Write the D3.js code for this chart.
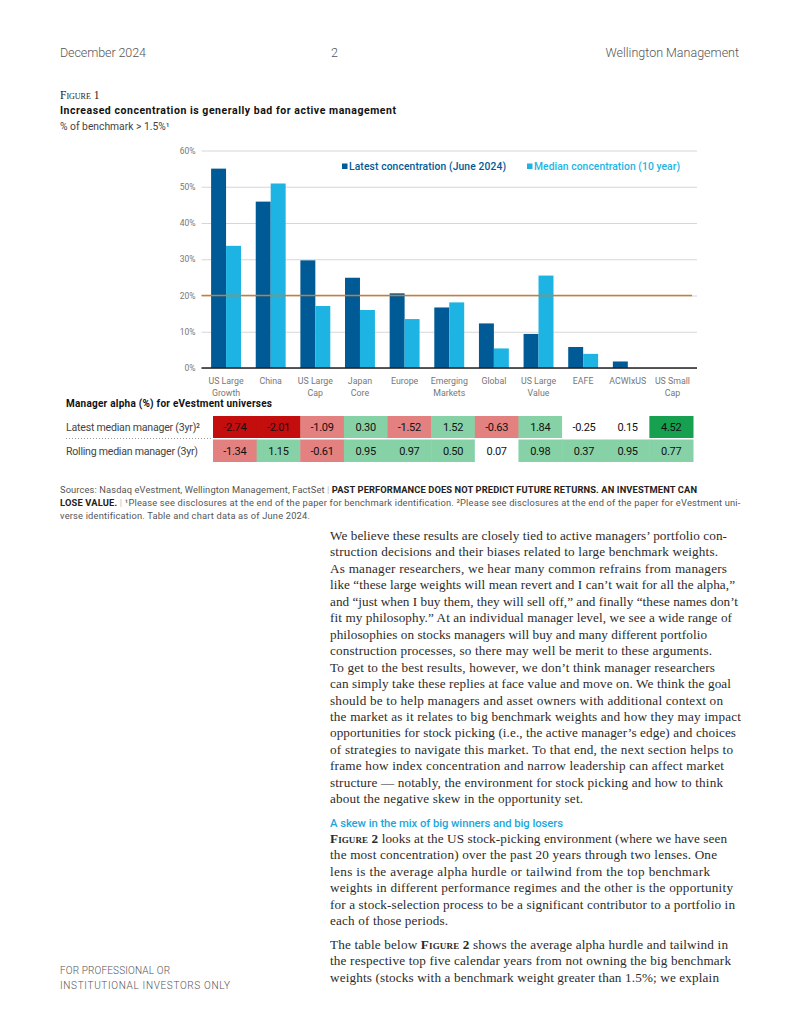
<!DOCTYPE html>
<html><head><meta charset="utf-8">
<script src="https://cdn.jsdelivr.net/npm/d3@7"></script>
<style>
body{margin:0;background:#fff}
svg{display:block}
</style></head><body>
<svg id="c" width="800" height="1035"></svg>
<script>
// ---------- DATA ----------
const categories = ["US Large Growth","China","US Large Cap","Japan Core","Europe","Emerging Markets","Global","US Large Value","EAFE","ACWIxUS","US Small Cap"];
const categoryLines = [["US Large","Growth"],["China"],["US Large","Cap"],["Japan","Core"],["Europe"],["Emerging","Markets"],["Global"],["US Large","Value"],["EAFE"],["ACWIxUS"],["US Small","Cap"]];
const latestConcentration = [55.0, 45.9, 29.7, 24.9, 20.6, 16.7, 12.3, 9.4, 5.8, 1.8, 0];
const medianConcentration = [33.7, 50.9, 17.1, 16.0, 13.5, 18.1, 5.4, 25.5, 3.9, 0, 0];
const seriesNames = ["Latest concentration (June 2024)", "Median concentration (10 year)"];
const thresholdValue = 20;
const yTickValues = [0, 10, 20, 30, 40, 50, 60];
const rowLabels = ["Latest median manager (3yr)\u00b2", "Rolling median manager (3yr)"];
const alphaLatest = [-2.74, -2.01, -1.09, 0.30, -1.52, 1.52, -0.63, 1.84, -0.25, 0.15, 4.52];
const alphaRolling = [-1.34, 1.15, -0.61, 0.95, 0.97, 0.50, 0.07, 0.98, 0.37, 0.95, 0.77];

const para1 = [
"We believe these results are closely tied to active managers\u2019 portfolio con-",
"struction decisions and their biases related to large benchmark weights.",
"As manager researchers, we hear many common refrains from managers",
"like \u201cthese large weights will mean revert and I can\u2019t wait for all the alpha,\u201d",
"and \u201cjust when I buy them, they will sell off,\u201d and finally \u201cthese names don\u2019t",
"fit my philosophy.\u201d At an individual manager level, we see a wide range of",
"philosophies on stocks managers will buy and many different portfolio",
"construction processes, so there may well be merit to these arguments.",
"To get to the best results, however, we don\u2019t think manager researchers",
"can simply take these replies at face value and move on. We think the goal",
"should be to help managers and asset owners with additional context on",
"the market as it relates to big benchmark weights and how they may impact",
"opportunities for stock picking (i.e., the active manager\u2019s edge) and choices",
"of strategies to navigate this market. To that end, the next section helps to",
"frame how index concentration and narrow leadership can affect market",
"structure \u2014 notably, the environment for stock picking and how to think",
"about the negative skew in the opportunity set."];
const para1Ends = [727,718,727,735,738,732,707,712,715,731,723,741,736,733,724,723,583];
const para2 = [
[["Figure 2","sc"],[" looks at the US stock-picking environment (where we have seen",""]],
[["the most concentration) over the past 20 years through two lenses. One",""]],
[["lens is the average alpha hurdle or tailwind from the top benchmark",""]],
[["weights in different performance regimes and the other is the opportunity",""]],
[["for a stock-selection process to be a significant contributor to a portfolio in",""]],
[["each of those periods.",""]]];
const para2Ends = [727,717,710,733,735,448];
const para3 = [
[["The table below ",""],["Figure 2","sc"],[" shows the average alpha hurdle and tailwind in",""]],
[["the respective top five calendar years from not owning the big benchmark",""]],
[["weights (stocks with a benchmark weight greater than 1.5%; we explain",""]]];
const para3Ends = [728,731,719];

// ---------- STYLE ----------
const SANS = "Roboto, 'Liberation Sans', sans-serif";
const SERIF = "'Liberation Serif', 'DejaVu Serif', serif";
const DARK = "#005a96", LIGHT = "#1db4e3", ORANGE = "#c97d32";

const svg = d3.select("#c");

function fit(sel, x0, x1) {
  const n = sel.node();
  const w = n.getComputedTextLength();
  const len = n.textContent.length;
  const ls = len > 1 ? ((x1 - x0) - w) / (len - 1) : 0;
  sel.style("letter-spacing", ls + "px");
  return ls;
}
function richLine(g, x, y, parts, size, fill) {
  const t = g.append("text").attr("x", x).attr("y", y)
    .style("font-family", SERIF).style("font-size", size + "px").attr("fill", fill);
  parts.forEach(([s, k]) => {
    const ts = t.append("tspan").text(s);
    if (k === "sc") ts.style("font-variant", "small-caps").style("font-weight", "bold");
  });
  return t;
}

function draw() {
  // ---------- HEADER ----------
  const hdr = svg.append("g").style("font-family", SANS).style("font-size", "12.5px").style("font-weight", 300).attr("fill", "#555");
  fit(hdr.append("text").attr("x", 60).attr("y", 56.5).text("December 2024"), 60, 146);
  hdr.append("text").attr("x", 331).attr("y", 56.5).text("2");
  hdr.append("text").attr("x", 739).attr("y", 56.5).attr("text-anchor", "end").text("Wellington Management");

  svg.append("text").attr("x", 60).attr("y", 98.5).style("font-family", SERIF).style("font-size", "11.5px")
    .style("font-variant", "small-caps").attr("fill", "#222").text("Figure 1");
  const title = svg.append("text").attr("x", 60).attr("y", 114).style("font-family", SANS).style("font-size", "10.5px")
    .style("font-weight", 700).attr("fill", "#111").text("Increased concentration is generally bad for active management");
  fit(title, 60, 396);
  svg.append("text").attr("x", 60).attr("y", 130).style("font-family", SANS).style("font-size", "10.3px")
    .attr("fill", "#444").text("% of benchmark > 1.5%\u00b9");

  // ---------- CHART ----------
  const x0 = 201.5, x1 = 697, yBase = 368;
  const y = d3.scaleLinear().domain([0, 60]).range([yBase, 150.5]);
  const x = d3.scaleBand().domain(categories).range([x0, x1]).paddingInner(0.33).paddingOuter(0.215);
  const xs = d3.scaleBand().domain(["latest", "median"]).range([0, x.bandwidth()]);

  const yAxis = svg.append("g").attr("transform", `translate(${x0},0)`)
    .call(d3.axisLeft(y).tickValues(yTickValues).tickSize(-(x1 - x0)).tickPadding(6).tickFormat(d => d + "%"));
  yAxis.select(".domain").remove();
  yAxis.selectAll(".tick line").attr("stroke", "#d6d6d6").attr("stroke-width", 1);
  yAxis.selectAll(".tick text").attr("fill", "#777").style("font-family", SANS).style("font-size", "8.5px");

  const rows = categories.map((c, i) => ({ c, latest: latestConcentration[i], median: medianConcentration[i] }));
  const grp = svg.append("g").selectAll("g").data(rows).join("g").attr("transform", d => `translate(${x(d.c)},0)`);
  grp.append("rect").attr("x", xs("latest")).attr("width", xs.bandwidth())
    .attr("y", d => y(d.latest)).attr("height", d => yBase - y(d.latest)).attr("fill", DARK);
  grp.append("rect").attr("x", xs("median")).attr("width", xs.bandwidth())
    .attr("y", d => y(d.median)).attr("height", d => yBase - y(d.median)).attr("fill", LIGHT);

  svg.append("line").attr("x1", x0).attr("x2", x1 - 5).attr("y1", y(thresholdValue)).attr("y2", y(thresholdValue))
    .attr("stroke", ORANGE).attr("stroke-width", 1.6);

  const xAxis = svg.append("g").attr("transform", `translate(0,${yBase})`)
    .call(d3.axisBottom(x).tickSize(0).tickPadding(0).tickFormat(""));
  xAxis.select(".domain").attr("stroke", "#222").attr("stroke-width", 1.6).attr("d", `M${x0},0H${x1}`);
  xAxis.selectAll(".tick text").each(function (d, i) {
    const t = d3.select(this).attr("y", 0).attr("dy", null).attr("fill", "#777")
      .style("font-family", SANS).style("font-size", "8.8px");
    categoryLines[i].forEach((ln, j) => t.append("tspan").attr("x", 0).attr("y", 15.5 + j * 12).text(ln));
  });

  // legend
  const lg = svg.append("g").style("font-family", SANS).style("font-size", "10.3px").style("font-weight", 500);
  [[342, 349, 506, DARK, seriesNames[0]], [527, 534, 680, LIGHT, seriesNames[1]]].forEach(([sx, tx, te, col, nm]) => {
    lg.append("rect").attr("x", sx).attr("y", 163.5).attr("width", 5.5).attr("height", 5.5).attr("fill", col);
    fit(lg.append("text").attr("x", tx).attr("y", 169.5).attr("fill", col).text(nm), tx, te);
  });

  // ---------- TABLE ----------
  const tt = svg.append("text").attr("x", 66).attr("y", 406.5).style("font-family", SANS).style("font-size", "10px")
    .style("font-weight", 700).attr("fill", "#111").text("Manager alpha (%) for eVestment universes");
  fit(tt, 66, 272);
  const tx = d3.scaleBand().domain(categories).range([213, 693]);
  const color = d3.scaleThreshold().domain([-2, -0.5, 0.25, 3])
    .range(["#c40d0d", "#e38181", "#ffffff", "#87d1a7", "#16a04f"]);
  const tRows = [{ label: rowLabels[0], vals: alphaLatest, y0: 416, h: 22, end: 200 }, { label: rowLabels[1], vals: alphaRolling, y0: 439.5, h: 22.5, end: 198 }];
  tRows.forEach(r => {
    const lt = svg.append("text").attr("x", 66).attr("y", r.y0 + r.h / 2 + 4).style("font-family", SANS).style("font-size", "10.6px")
      .attr("fill", "#444").text(r.label);
    fit(lt, 66, r.end);
    const g = svg.append("g");
    g.selectAll("rect").data(r.vals).join("rect").attr("x", (d, i) => tx(categories[i])).attr("width", tx.bandwidth() + 0.5)
      .attr("y", r.y0).attr("height", r.h).attr("fill", d => color(d));
    g.selectAll("text").data(r.vals).join("text").attr("x", (d, i) => tx(categories[i]) + tx.bandwidth() / 2)
      .attr("y", r.y0 + r.h / 2 + 4).attr("text-anchor", "middle").style("font-family", SANS).style("font-size", "11px")
      .style("font-weight", 400).style("letter-spacing", "-0.3px").attr("fill", "#111").text(d => d.toFixed(2));
  });
  svg.append("line").attr("x1", 66).attr("x2", 213).attr("y1", 438.5).attr("y2", 438.5)
    .attr("stroke", "#9a9a9a").attr("stroke-dasharray", "1,2");

  // ---------- SOURCES ----------
  const src = svg.append("g").style("font-family", SANS).style("font-size", "9.3px").attr("fill", "#555");
  const s1 = src.append("text").attr("x", 60).attr("y", 492.5);
  s1.append("tspan").text("Sources: Nasdaq eVestment, Wellington Management, FactSet ");
  s1.append("tspan").attr("fill", "#bbb").text("| ");
  s1.append("tspan").attr("fill", "#222").style("font-weight", 700).text("PAST PERFORMANCE DOES NOT PREDICT FUTURE RETURNS. AN INVESTMENT CAN");
  fit(s1, 60, 697);
  const s2 = src.append("text").attr("x", 60).attr("y", 505.5);
  s2.append("tspan").attr("fill", "#222").style("font-weight", 700).text("LOSE VALUE. ");
  s2.append("tspan").attr("fill", "#bbb").text("| ");
  s2.append("tspan").text("\u00b9Please see disclosures at the end of the paper for benchmark identification. \u00b2Please see disclosures at the end of the paper for eVestment uni-");
  const ls2 = fit(s2, 60, 740);
  src.append("text").attr("x", 60).attr("y", 518.5).style("letter-spacing", ls2 + "px")
    .text("verse identification. Table and chart data as of June 2024.");

  // ---------- BODY ----------
  const body = svg.append("g");
  const BS = 13.2, BF = "#2b2b2b";
  para1.forEach((ln, i) => fit(richLine(body, 330, 540 + i * 16.45, [[ln, ""]], BS, BF), 330, para1Ends[i]));
  const hd = svg.append("text").attr("x", 330).attr("y", 827).style("font-family", SANS).style("font-size", "11.3px")
    .style("font-weight", 500).attr("fill", "#1ca7dc").text("A skew in the mix of big winners and big losers");
  fit(hd, 330, 563);
  para2.forEach((parts, i) => fit(richLine(body, 330, 843 + i * 16.45, parts, BS, BF), 330, para2Ends[i]));
  para3.forEach((parts, i) => fit(richLine(body, 330, 949 + i * 16.45, parts, BS, BF), 330, para3Ends[i]));

  // ---------- FOOTER ----------
  const ft = svg.append("g").style("font-family", SANS).style("font-size", "10px").style("font-weight", 300).attr("fill", "#555");
  fit(ft.append("text").attr("x", 60).attr("y", 974).text("FOR PROFESSIONAL OR"), 60, 170);
  fit(ft.append("text").attr("x", 60).attr("y", 989).text("INSTITUTIONAL INVESTORS ONLY"), 60, 230);
}
(document.fonts ? document.fonts.ready : Promise.resolve()).then(draw);
</script>
</body></html>
